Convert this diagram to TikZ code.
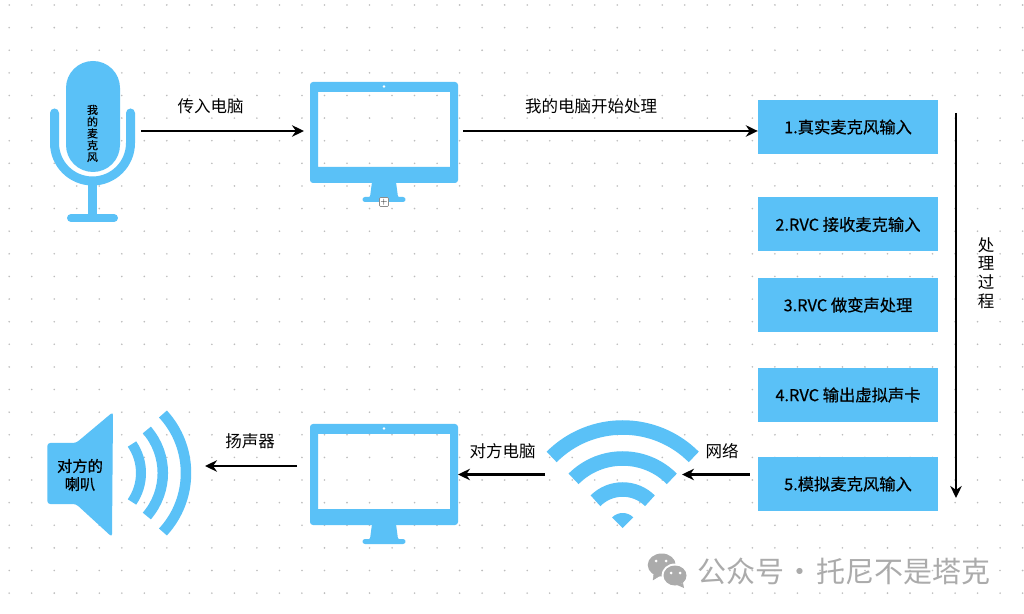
\documentclass[tikz,border=0pt]{standalone}
\usepackage{fontspec}
\usetikzlibrary{arrows.meta,calc}
\newfontfamily\cjk{Noto Sans CJK SC}
\newfontfamily\cjkm[FakeBold=0.5]{Noto Sans CJK SC}
\definecolor{iconblue}{HTML}{5AC1F7}
\definecolor{dotgrey}{HTML}{BDBDBD}
\definecolor{markgrey}{HTML}{ABABAB}
\tikzset{
	flow/.style={line width=2.3pt,-{Stealth[length=12pt,width=11.5pt]}},
	stepbox/.style={fill=iconblue,minimum width=180pt,minimum height=54pt,inner sep=0pt,font=\cjkm\fontsize{16.3}{18}\selectfont},
	flowlabel/.style={font=\cjk\fontsize{16.5}{18}\selectfont,inner sep=0pt}
}
\def\monitorshape(#1,#2){
	\begin{scope}[shift={(#1,#2)}]
		\fill[iconblue,even odd rule,rounded corners=3pt] (0,0) rectangle (148,-101) [sharp corners] (8,-10) rectangle (140,-85);
		\fill[white] (74,-4.5) circle (1.4);
		\fill[iconblue,rounded corners=1pt] (62,-100) -- (60,-115) -- (54,-115) -- (52,-117.5) -- (54,-120) -- (94,-120) -- (96,-117.5) -- (94,-115) -- (88,-115) -- (86,-100) -- cycle;
	\end{scope}
}
\begin{document}
\begin{tikzpicture}[x=1pt,y=1pt]
	\useasboundingbox (0,0) rectangle (1024,613);
	\fill[white] (0,0) rectangle (1024,613);
	% dot grid
	\foreach \i in {0,...,45}
		\foreach \j in {0,...,26}
			\fill[dotgrey] ({9.2+22.52*\i},{608-22.62*\j}) circle (0.9);

	% microphone
	\fill[iconblue,rounded corners=27pt] (66,552) rectangle (120,441);
	\draw[iconblue,line width=9pt,line cap=round] (54.5,500) -- (54.5,470) arc (180:360:38) -- (130.5,500);
	\draw[iconblue,line width=9pt] (92.5,428) -- (92.5,395);
	\draw[iconblue,line width=8pt,line cap=round] (71,395) -- (114,395);
	\node[font=\cjkm\fontsize{11}{11.8}\selectfont,align=center,inner sep=0pt] (miclabel) at (92.5,479.5) {我\\的\\麦\\克\\风};

	% monitors
	\monitorshape(310,531)
	\monitorshape(310,189)
	\node[draw=black!45,fill=white,rounded corners=1pt,minimum size=9pt,inner sep=0pt,line width=0.6pt,font=\fontsize{9}{9}\selectfont] (addmark) at (384,411) {+};

	% wifi
	\coordinate (wifiapex) at (622.7,85);
	\foreach \r in {100.5,69.5,38.5}
		\draw[iconblue,line width=14.5pt] ($(wifiapex)+(45:\r)$) arc (45:135:\r);
	\fill[iconblue] (wifiapex) -- ($(wifiapex)+(45:15)$) arc (45:135:15) -- cycle;

	% speaker
	\fill[iconblue,rounded corners=3pt] (47.3,170) -- (47.3,109) -- (76,109) -- (112,76) -- (113,201) -- (76,170) -- cycle;
	\draw[iconblue,line width=10pt] ($(90,140)+(-34.6:51)$) arc (-34.6:34.6:51);
	\draw[iconblue,line width=10.5pt] ($(97,140)+(-40.8:65.8)$) arc (-40.8:40.8:65.8);
	\draw[iconblue,line width=10.5pt] ($(99,140)+(-42.7:87)$) arc (-42.7:42.7:87);
	\node[font=\cjkm\fontsize{15.3}{18}\selectfont,align=center,inner sep=0pt] (speakerlabel) at (80,138) {对方的\\喇叭};

	% steps
	\node[stepbox] (box1) at (848,486) {1.真实麦克风输入};
	\node[stepbox] (box2) at (848,388.5) {2.RVC 接收麦克输入};
	\node[stepbox] (box3) at (848,308) {3.RVC 做变声处理};
	\node[stepbox] (box4) at (848,218) {4.RVC 输出虚拟声卡};
	\node[stepbox] (box5) at (848,129) {5.模拟麦克风输入};

	% connector ends
	\coordinate (micout) at (141,482);
	\coordinate (monitorin) at (304,482);
	\coordinate (monitorout) at (463,482);
	\coordinate (wifiin) at (682,138.5);
	\coordinate (wifiout) at (545,138.5);
	\coordinate (otherin) at (458,138.5);
	\coordinate (otherout) at (297,147);
	\coordinate (speakerin) at (205,147);
	\coordinate (flowtop) at (956,500);
	\coordinate (flowend) at (956,115);

	\draw[flow] (micout) -- (monitorin);
	\draw[flow] (monitorout) -- (box1.west |- monitorout);
	\draw[flow,shorten <=8pt] (box5.west |- wifiin) -- (wifiin);
	\draw[flow] (wifiout) -- (otherin);
	\draw[flow] (otherout) -- (speakerin);
	\draw[flow] (flowtop) -- (flowend);

	\node[flowlabel] (inlabel) at (210.5,507) {传入电脑};
	\node[flowlabel] (startlabel) at (591,507) {我的电脑开始处理};
	\node[flowlabel] (netlabel) at (722,162) {网络};
	\node[flowlabel] (otherlabel) at (502.5,162) {对方电脑};
	\node[flowlabel] (outlabel) at (250,172) {扬声器};
	\node[flowlabel,align=center,font=\cjk\fontsize{16.5}{18.6}\selectfont] (flowlabelv) at (986,340) {处\\理\\过\\程};

	% watermark
	\fill[markgrey] (661.7,48) ellipse (14 and 11.5);
	\draw[markgrey,fill=markgrey] (654,40) -- (653,33) -- (661,38) -- cycle;
	\fill[white] (675,37.5) ellipse (13.5 and 12);
	\fill[markgrey] (675,37.5) ellipse (11.5 and 10);
	\fill[markgrey] (683,30) -- (684,25) -- (677,28) -- cycle;
	\foreach \ex/\ey in {656/52,666/52,671/40,680/40}
		\fill[white] (\ex,\ey) circle (1.5);
	\node[font=\cjk\fontsize{29}{30}\selectfont,text=markgrey,anchor=west,inner sep=0pt] (marktext) at (697,42) {公众号\makebox[32pt]{·}托尼不是塔克};
\end{tikzpicture}
\end{document}
